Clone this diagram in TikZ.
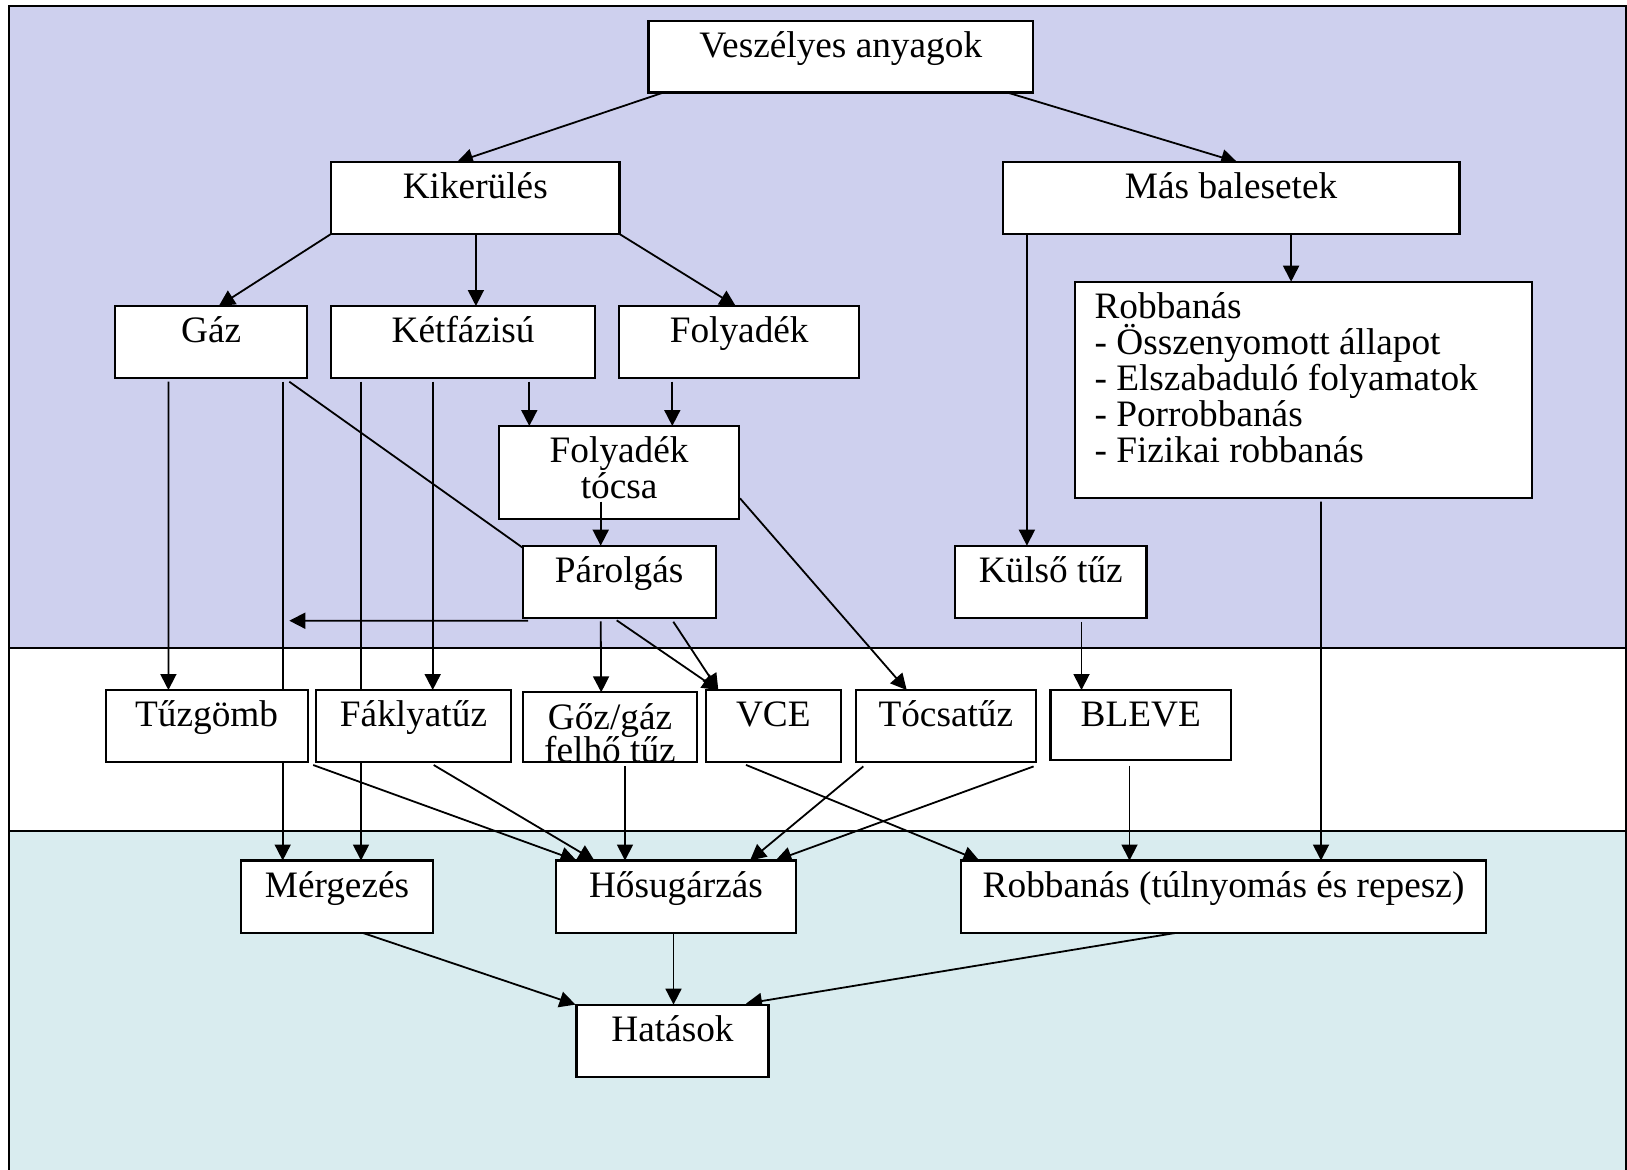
\documentclass[tikz,border=0pt]{standalone}
\usepackage{fontspec}
\setmainfont{Liberation Serif}
\usetikzlibrary{arrows.meta,calc}
\pgfdeclarelayer{bands}
\pgfdeclarelayer{edges}
\pgfsetlayers{bands,edges,main}
\definecolor{bandpurple}{RGB}{206,208,238}
\definecolor{bandcyan}{RGB}{217,236,239}
\newcommand\mlc[2]{\vtop{\baselineskip=#1\lineskiplimit=-100pt\lineskip=0pt\halign{\hfil##\hfil\cr#2\crcr}}}
\newcommand\mll[2]{\vtop{\baselineskip=#1\lineskiplimit=-100pt\lineskip=0pt\halign{##\hfil\cr#2\crcr}}}
\begin{document}
\begin{tikzpicture}[x=0.5pt,y=-0.5pt,
  font=\fontsize{18.65}{18}\selectfont,
  box/.style={draw, fill=white, line width=1.1pt, inner sep=0pt, outer sep=0pt, anchor=north west, text height=18.4pt},
  arr/.style={-{Triangle[length=8pt,width=8pt]}, line width=0.9pt},
  ln/.style={line width=0.9pt}]
\useasboundingbox (0,0) rectangle (1627,1169);

% boxes
\node[box, minimum width=192.25pt, text depth=17.35pt] (vesz) at (648.5,21) {Veszélyes anyagok};
\node[box, minimum width=144.25pt, text depth=17.6pt] (kik) at (331,162) {Kikerülés};
\node[box, minimum width=228.4pt, text depth=17.6pt] (mas) at (1002.7,162) {Más balesetek};
\node[box, minimum width=96pt, text depth=17.6pt] (gaz) at (115.2,306) {Gáz};
\node[box, minimum width=131.95pt, text depth=17.6pt] (ket) at (331.2,306) {Kétfázisú};
\node[box, minimum width=120pt, text depth=17.6pt] (foly) at (619.2,306) {Folyadék};
\node[box, minimum width=228.2pt, text height=18.2pt, text depth=89.9pt] (list) at (1075.2,281.7)
  {\hbox to 228.2pt{\hskip9.7pt\mll{18pt}{Robbanás\cr - Összenyomott állapot\cr - Elszabaduló folyamatok\cr - Porrobbanás\cr - Fizikai robbanás}\hfil}};
\node[box, minimum width=120.15pt, text depth=28.25pt] (tocsa) at (499,426) {\mlc{17.8pt}{Folyadék\cr tócsa}};
\node[box, minimum width=96.5pt, text depth=17.9pt] (parol) at (522.7,545.7) {Párolgás};
\node[box, minimum width=95.75pt, text depth=17.9pt] (kulso) at (955,545.7) {Külső tűz};
\node[box, minimum width=101pt, text depth=17.7pt] (tuzg) at (105.6,690) {Tűzgömb};
\node[box, minimum width=97.7pt, text depth=17.7pt] (fakly) at (315.8,690) {Fáklyatűz};
\node[box, minimum width=87.3pt, text depth=16.6pt] (goz) at (522.7,692.3) {\mlc{16.5pt}{Gőz/gáz\cr felhő tűz}};
\node[box, minimum width=67.65pt, text depth=17.7pt] (vce) at (705.7,690) {VCE};
\node[box, minimum width=90.15pt, text depth=17.7pt] (tocsatuz) at (855.7,690) {Tócsatűz};
\node[box, minimum width=90.2pt, text depth=16.6pt] (bleve) at (1050.5,690) {BLEVE};
\node[box, minimum width=96.2pt, text depth=17.7pt] (merg) at (240.8,860.5) {Mérgezés};
\node[box, minimum width=119.9pt, text depth=17.7pt] (hos) at (556.1,860.5) {Hősugárzás};
\node[box, minimum width=262.65pt, text depth=17.7pt] (robt) at (960.9,860.5) {Robbanás (túlnyomás és repesz)};
\node[box, minimum width=95.95pt, text depth=17.7pt] (hat) at (576.5,1004.6) {Hatások};

\coordinate (pend) at (289.3,620.7);

\begin{pgfonlayer}{bands}
\fill[bandpurple] (9,6) rectangle (1626,648);
\fill[white] (9,648) rectangle (1626,831);
\fill[bandcyan] (9,831) rectangle (1626,1185);
\draw[line width=1.1pt] (9,1185) -- (9,6) -- (1626,6) -- (1626,1185);
\draw[line width=1.1pt] (9,648) -- (1626,648) (9,831) -- (1626,831);
\end{pgfonlayer}

\begin{pgfonlayer}{edges}
\draw[arr] ($(vesz.south west)+(18,-1)$) -- ($(kik.north west)+(126,0)$);
\draw[arr] ($(vesz.south east)+(-29,-1)$) -- ($(mas.north west)+(234.4,0)$);
\draw[arr] (kik.south west) -- ($(gaz.north west)+(103.6,0)$);
\draw[arr] ($(kik.south west)+(144.9,0)$) -- ($(ket.north west)+(144.7,0)$);
\draw[arr] (kik.south east) -- ($(foly.north west)+(116.5,0)$);
\draw[arr] ($(mas.south west)+(288.4,0)$) -- ($(list.north west)+(215.9,0)$);
\draw[arr] ($(mas.south west)+(24.2,0)$) -- ($(kulso.north west)+(71.9,0)$);
\draw[arr] ($(gaz.south west)+(53.2,3.7)$) -- ($(tuzg.north west)+(62.8,0)$);
\draw[arr] ($(gaz.south west)+(167.5,3.7)$) -- ($(merg.north west)+(41.9,0)$);
\draw[arr] ($(ket.south west)+(29.8,3.7)$) -- ($(merg.north west)+(120.2,0)$);
\draw[arr] ($(ket.south west)+(101.5,3.7)$) -- ($(fakly.north west)+(116.9,0)$);
\draw[arr] ($(ket.south west)+(198.1,3.7)$) -- ($(tocsa.north west)+(30.3,0)$);
\draw[arr] ($(foly.south west)+(53.1,3.7)$) -- ($(tocsa.north west)+(173.3,0)$);
\draw[ln] ($(gaz.south west)+(174.1,3.7)$) -- ($(parol.north west)+(0,2)$);
\draw[arr] ($(tocsa.south east)+(0.7,-21)$) -- ($(tocsatuz.north west)+(51,0)$);
\draw[arr] ($(parol.south west)+(5.3,2.4)$) -- (pend);
\draw[arr] ($(parol.south west)+(78,3)$) -- ($(goz.north west)+(78.5,0)$);
\draw[arr] ($(parol.south west)+(94,2)$) -- ($(vce.north west)+(12.6,0)$);
\draw[arr] ($(parol.south west)+(150.6,3.4)$) -- ($(vce.north west)+(12.6,0)$);
\draw[arr] ($(kulso.south west)+(126.5,3.5)$) -- ($(bleve.north west)+(31,0)$);
\draw[arr] ($(list.south west)+(245.8,3.7)$) -- ($(robt.north west)+(360.1,0)$);
\draw[arr] ($(bleve.south west)+(79,5.5)$) -- ($(robt.north west)+(168.6,0)$);
\draw[arr] ($(tuzg.south east)+(5.6,2.8)$) -- ($(hos.north west)+(20.4,0)$);
\draw[arr] ($(fakly.south west)+(117.9,2.8)$) -- ($(hos.north west)+(38.3,0)$);
\draw[arr] ($(goz.south west)+(102.3,3.7)$) -- ($(hos.north west)+(68.9,0)$);
\draw[arr] ($(vce.south west)+(40.3,2.7)$) -- ($(robt.north west)+(18.4,0)$);
\draw[arr] ($(tocsatuz.south west)+(7.6,4.2)$) -- ($(hos.north west)+(193.9,0)$);
\draw[arr] ($(tocsatuz.south east)+(-2.4,4.2)$) -- ($(hos.north west)+(219.4,0)$);
\draw[arr] ($(merg.south west)+(121.4,0)$) -- ($(hat.north west)+(-1,0)$);
\draw[arr] ($(hos.south west)+(117.4,0)$) -- ($(hat.north west)+(97,0)$);
\draw[arr] ($(robt.south west)+(216.1,0)$) -- ($(hat.north west)+(169.5,-1)$);
\end{pgfonlayer}

% this connector is drawn over the pool box
\draw[arr] ($(tocsa.south west)+(101.7,-17.6)$) -- ($(parol.north west)+(78,0)$);
\end{tikzpicture}
\end{document}
